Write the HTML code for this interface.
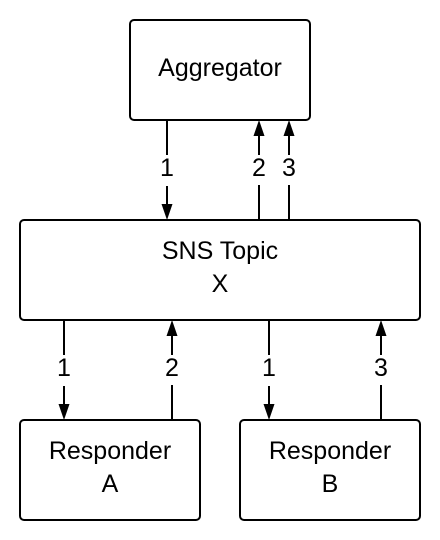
<!DOCTYPE html>
<html><head><meta charset="utf-8"><style>
html,body{margin:0;padding:0;background:#fff;}
svg{display:block}
text{font-family:"Liberation Sans",sans-serif;font-size:25px;fill:#000;text-anchor:middle}
</style></head><body>
<svg width="440" height="540" viewBox="0 0 440 540" xmlns="http://www.w3.org/2000/svg">
<g fill="none" stroke="#000" stroke-width="2">
<rect x="130" y="20" width="180" height="100" rx="4"/>
<rect x="20" y="220" width="400" height="100" rx="4"/>
<rect x="20" y="420" width="180" height="100" rx="4"/>
<rect x="240" y="420" width="180" height="100" rx="4"/>
<path d="M167 120V155M167 186V206"/>
<path d="M259 136V155M259 185V220"/>
<path d="M289 136V155M289 185V220"/>
<path d="M64 320V355M64 386V406"/>
<path d="M172 336V355M172 385V420"/>
<path d="M269 320V355M269 386V406"/>
<path d="M381 336V355M381 385V420"/>
</g>
<g fill="#000">
<polygon points="161.5,204 172.5,204 167,220"/>
<polygon points="253.5,136 264.5,136 259,120"/>
<polygon points="283.5,136 294.5,136 289,120"/>
<polygon points="58.5,404 69.5,404 64,420"/>
<polygon points="166.5,336 177.5,336 172,320"/>
<polygon points="263.5,404 274.5,404 269,420"/>
<polygon points="375.5,336 386.5,336 381,320"/>
</g>
<text x="220" y="76">Aggregator</text>
<text x="220" y="259">SNS Topic</text>
<text x="220" y="292">X</text>
<text x="110" y="459">Responder</text>
<text x="110" y="492">A</text>
<text x="330" y="459">Responder</text>
<text x="330" y="492">B</text>
<text x="167" y="176">1</text>
<text x="259" y="176">2</text>
<text x="289" y="176">3</text>
<text x="64" y="376">1</text>
<text x="172" y="376">2</text>
<text x="269" y="376">1</text>
<text x="381" y="376">3</text>
</svg>
</body></html>
